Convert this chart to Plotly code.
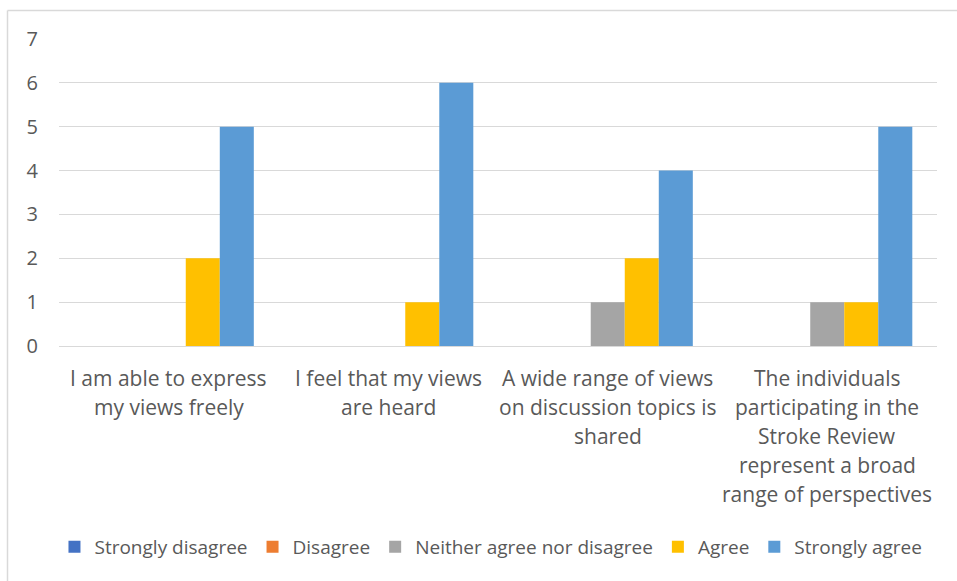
import plotly.graph_objects as go

categories = [
    "I am able to express my views freely",
    "I feel that my views are heard",
    "A wide range of views on discussion topics is shared",
    "The individuals participating in the Stroke Review represent a broad range of perspectives",
]
category_lines = [
    ["I am able to express", "my views freely"],
    ["I feel that my views", "are heard"],
    ["A wide range of views", "on discussion topics is", "shared"],
    ["The individuals", "participating in the", "Stroke Review", "represent a broad", "range of perspectives"],
]
series_names = ["Strongly disagree", "Disagree", "Neither agree nor disagree", "Agree", "Strongly agree"]
strongly_disagree = [0, 0, 0, 0]
disagree = [0, 0, 0, 0]
neither = [0, 0, 1, 1]
agree = [2, 1, 2, 1]
strongly_agree = [5, 6, 4, 5]
series_values = [strongly_disagree, disagree, neither, agree, strongly_agree]
colors = ["#4472C4", "#ED7D31", "#A5A5A5", "#FFC000", "#5B9BD5"]
y_ticks = [0, 1, 2, 3, 4, 5, 6, 7]

FONT = "Open Sans"
TXT = "#595959"

fig = go.Figure()
for name, vals, c in zip(series_names, series_values, colors):
    fig.add_trace(go.Bar(x=categories, y=vals, name=name, marker=dict(color=c, line=dict(width=0))))

annotations = []
for cat, lines in zip(categories, category_lines):
    for i, line in enumerate(lines):
        annotations.append(dict(
            x=cat, y=0, xref="x", yref="y", text=line, showarrow=False,
            yanchor="middle", xanchor="center", yshift=-32 - 29 * i,
            font=dict(family=FONT, size=21, color=TXT),
        ))

W, H = 957, 581
L, R, T, B = 59, 20, 39, 235
pw, ph = W - L - R, H - T - B
bx = (7.5 - L) / pw
by = (H - B - 10.5) / ph

fig.update_layout(
    width=W, height=H,
    margin=dict(l=L, r=R, t=T, b=B, autoexpand=False),
    paper_bgcolor="white", plot_bgcolor="white",
    barmode="group", bargap=0.225, bargroupgap=0,
    font=dict(family=FONT, size=20, color=TXT),
    xaxis=dict(showticklabels=False, showgrid=False, showline=False, ticks=""),
    yaxis=dict(range=[0, 7], tickvals=y_ticks, showgrid=True, gridcolor="#D9D9D9", gridwidth=1,
               zeroline=True, zerolinecolor="#D9D9D9", zerolinewidth=1, showline=False,
               ticks="", ticklabelstandoff=20, tickfont=dict(family=FONT, size=20, color=TXT)),
    legend=dict(orientation="h", x=0.492, xanchor="center",
                y=(H - B - 547) / ph, yanchor="middle",
                font=dict(family=FONT, size=19, color=TXT), itemwidth=30, traceorder="normal"),
    annotations=annotations,
    shapes=[
        dict(type="line", xref="paper", yref="paper", x0=bx, x1=bx, y0=by, y1=-1.0,
             line=dict(color="#D9D9D9", width=1.5)),
        dict(type="line", xref="paper", yref="paper", x0=bx, x1=1.2, y0=by, y1=by,
             line=dict(color="#D9D9D9", width=1.5)),
    ],
    showlegend=True,
)

fig.write_html("out.html")
